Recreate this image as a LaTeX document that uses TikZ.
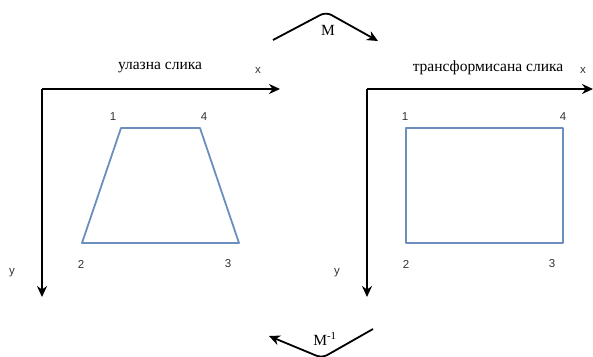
\documentclass[tikz,border=0pt]{standalone}
\usepackage{fontspec}
\setmainfont{Liberation Serif}
\newfontfamily\numfont{Liberation Sans}
\usepackage{xcolor}
\usetikzlibrary{arrows.meta,positioning}
\definecolor{ShapeBlue}{HTML}{6C8EBF}
\definecolor{NumGray}{HTML}{333333}

\begin{document}
\begin{tikzpicture}[x=1pt,y=-1pt,
  axisline/.style={-{Stealth[length=11pt,width=10pt]},line width=2pt,color=black},
  mapline/.style={-{Stealth[length=11pt,width=10pt]},line width=1.8pt,color=black,rounded corners=6pt},
  shapeline/.style={draw=ShapeBlue,line width=1.8pt,line join=round},
  numlabel/.style={font=\numfont\fontsize{11.5}{13}\selectfont,text=NumGray,inner sep=0pt},
  axlabel/.style={font=\numfont\fontsize{11.5}{13}\selectfont,text=NumGray,inner sep=0pt},
  title/.style={font=\fontsize{15.5}{18}\selectfont,inner sep=0pt}]
  \useasboundingbox (0,0) rectangle (593,356);
  % input image
  \coordinate (lo) at (42,89);
  \coordinate (lx) at (280,89);
  \coordinate (ly) at (42,297);
  \draw[axisline] (lo)--(lx);
  \draw[axisline] (lo)--(ly);
  \node[title] (ltitle) at (160,68) {улазна слика};
  \node[axlabel] (lxl) at (258,70) {x};
  \node[axlabel] (lyl) at (12,273) {y};
  \coordinate (a1) at (121,128); \coordinate (a4) at (200,128);
  \coordinate (a2) at (82,243); \coordinate (a3) at (239,243);
  \draw[shapeline] (a1)--(a4)--(a3)--(a2)--cycle;
  \node[numlabel] (n1) at (113,117) {1};
  \node[numlabel] (n4) at (204,117) {4};
  \node[numlabel] (n2) at (81,264) {2};
  \node[numlabel] (n3) at (228,264) {3};
  % transformed image
  \coordinate (ro) at (367,89);
  \coordinate (rx) at (593,89);
  \coordinate (ry) at (367,297);
  \draw[axisline] (ro)--(rx);
  \draw[axisline] (ro)--(ry);
  \node[title] (rtitle) at (488,68) {трансформисана слика};
  \node[axlabel] (rxl) at (583,70) {x};
  \node[axlabel] (ryl) at (337,273) {y};
  \coordinate (b1) at (406,128); \coordinate (b4) at (563,128);
  \coordinate (b2) at (406,243); \coordinate (b3) at (563,243);
  \draw[shapeline] (b1)--(b4)--(b3)--(b2)--cycle;
  \node[numlabel] (m1) at (405,117) {1};
  \node[numlabel] (m4) at (563,117) {4};
  \node[numlabel] (m2) at (406,264) {2};
  \node[numlabel] (m3) at (552,264) {3};
  % mappings
  \coordinate (fs) at (273,40); \coordinate (fp) at (326,12); \coordinate (fe) at (378,41);
  \draw[mapline] (fs)--(fp)--(fe);
  \node[title] (fwd) at (328,30) {M};
  \coordinate (bs) at (373,329); \coordinate (bp) at (322,358); \coordinate (be) at (269,336);
  \draw[mapline] (bs)--(bp)--(be);
  \node[title] (bwd) at (325,339) {M\textsuperscript{-1}};
\end{tikzpicture}
\end{document}
